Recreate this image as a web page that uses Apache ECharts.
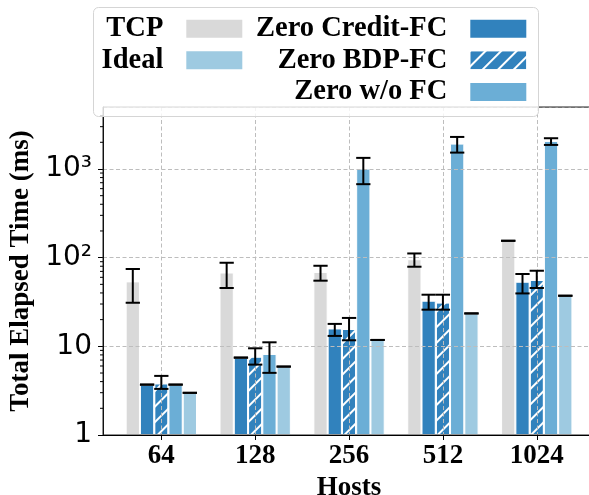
<!DOCTYPE html>
<html><head><meta charset="utf-8">
<script src="https://cdn.jsdelivr.net/npm/echarts@6/dist/echarts.min.js"></script>
<style>html,body{margin:0;padding:0;background:#fff}#c{width:589px;height:495px}</style>
</head><body><div id="c"></div>
<script>
// ---- data ----
const hosts = ['64', '128', '256', '512', '1024'];
const seriesNames = ['TCP', 'Zero Credit-FC', 'Zero BDP-FC', 'Zero w/o FC', 'Ideal'];
const tcp      = [54, 68, 69, 96, 155];
const tcpLow   = [31, 45.5, 55, 79, 155];
const tcpHigh  = [74.5, 87.6, 81, 111.5, 155];
const credit     = [3.70, 7.46, 15.9, 32.7, 53.5];
const creditLow  = [3.70, 7.46, 13.1, 25.9, 39.5];
const creditHigh = [3.70, 7.46, 17.9, 38.2, 65.4];
const bdp     = [3.83, 7.66, 15.7, 31.3, 56];
const bdpLow  = [3.31, 6.22, 11.7, 25.9, 45.5];
const bdpHigh = [4.64, 9.5, 20.9, 38.2, 71.2];
const noFc     = [3.70, 8.2, 1010, 1932, 2072];
const noFcLow  = [3.70, 5.02, 674, 1530, 1868];
const noFcHigh = [3.70, 11.1, 1334, 2298, 2222];
const ideal     = [2.99, 5.91, 11.8, 23.5, 37.2];
const idealLow  = [2.99, 5.91, 11.8, 23.5, 37.2];
const idealHigh = [2.99, 5.91, 11.8, 23.5, 37.2];
const yTickLabels = {1: '1', 10: '10', 100: '10²', 1000: '10³'};
const minorTickValues = [2,3,4,5,6,7,8,9,20,30,40,50,60,70,80,90,200,300,400,500,600,700,800,900,2000,3000,4000];
const yMin = 1, yMax = 5000;

// ---- styling ----
const colors = ['#d9d9d9', '#3182bd', '#3182bd', '#6baed6', '#9ecae1'];
const serif = 'Liberation Serif';
const catGap = 0.24;
const values = [tcp, credit, bdp, noFc, ideal];
const lows = [tcpLow, creditLow, bdpLow, noFcLow, idealLow];
const highs = [tcpHigh, creditHigh, bdpHigh, noFcHigh, idealHigh];

const errData = [];
for (let s = 0; s < 5; s++) for (let i = 0; i < hosts.length; i++) errData.push([i, s, lows[s][i], highs[s][i]]);

const gridLine = {show: true, lineStyle: {type: [4, 2.5], color: '#bdbdbd', width: 1}};

const barSeries = values.map((arr, k) => {
  const st = {color: colors[k], borderColor: '#ffffff', borderWidth: 1};
  if (k === 2) st.decal = {symbol: 'rect', symbolSize: 1, color: '#ffffff', dashArrayX: [1, 0], dashArrayY: [1.3, 9], rotation: -Math.PI / 4};
  return {type: 'bar', name: seriesNames[k], xAxisIndex: 1, yAxisIndex: 1, data: arr,
    barGap: '0%', barCategoryGap: (catGap * 100) + '%', itemStyle: st, z: 2, silent: true};
});

const legendPos = [
  {right: 344.7, top: 13.7}, {right: 344.7, top: 45.3},
  {right: 60.7, top: 13.7}, {right: 60.7, top: 45.3}, {right: 60.7, top: 77}
];
const legendOrder = ['TCP', 'Ideal', 'Zero Credit-FC', 'Zero BDP-FC', 'Zero w/o FC'];
const legends = legendOrder.map((n, i) => ({
  data: [n], right: legendPos[i].right, top: legendPos[i].top, orient: 'horizontal', align: 'right',
  icon: 'rect', itemWidth: 58, itemHeight: 20, padding: 0, selectedMode: false, z: 6,
  textStyle: {fontFamily: serif, fontWeight: 'bold', fontSize: 28.5, color: '#000', lineHeight: 30, padding: [0, 17, 0, 0]}
}));

const chart = echarts.init(document.getElementById('c'), null, {renderer: 'canvas'});
chart.setOption({
  animation: false,
  backgroundColor: '#fff',
  grid: [
    {left: 103, right: -6, top: 107, bottom: 60, containLabel: false, outerBoundsMode: 'none', show: true, borderColor: '#222', borderWidth: 1, backgroundColor: 'transparent', z: 4},
    {left: 114.4, right: 5.3, top: 107, bottom: 60, containLabel: false, outerBoundsMode: 'none'}
  ],
  xAxis: [
    {gridIndex: 0, type: 'value', min: 0, max: 1, z: 4,
      axisLine: {show: true, lineStyle: {color: '#000', width: 1}},
      axisTick: {show: false}, axisLabel: {show: false}, splitLine: {show: false}},
    {gridIndex: 1, type: 'category', data: hosts, z: 3,
      axisLine: {show: false},
      axisTick: {show: true, alignWithLabel: true, length: 5, lineStyle: {color: '#000'}},
      axisLabel: {fontFamily: serif, fontWeight: 'bold', fontSize: 27, color: '#000', margin: 8},
      splitLine: Object.assign({alignWithLabel: true}, gridLine),
      name: 'Hosts', nameLocation: 'middle', nameGap: 33,
      nameTextStyle: {fontFamily: serif, fontWeight: 'bold', fontSize: 27, color: '#000'}}
  ],
  yAxis: [
    {gridIndex: 0, type: 'log', logBase: 10, min: yMin, max: yMax, z: 3,
      axisLine: {show: true, lineStyle: {color: '#000'}},
      axisTick: {show: true, length: 5, lineStyle: {color: '#000'}},
      axisLabel: {fontFamily: 'DejaVu Sans', fontSize: 28, color: '#000', margin: 11, showMaxLabel: false,
        formatter: v => { const e = Math.log10(v), r = Math.round(e); if (Math.abs(e - r) > 1e-6) return ''; return yTickLabels[Math.pow(10, r)] || ''; }},
      splitLine: gridLine,
      name: 'Total Elapsed Time (ms)', nameLocation: 'middle', nameGap: 64,
      nameTextStyle: {fontFamily: serif, fontWeight: 'bold', fontSize: 27, color: '#000'}},
    {gridIndex: 1, type: 'log', logBase: 10, min: yMin, max: yMax, show: false}
  ],
  legend: legends,
  graphic: [{type: 'rect', left: 93, top: 7, z: 5, silent: true,
    shape: {width: 445, height: 109, r: 5},
    style: {fill: 'rgba(255,255,255,0.82)', stroke: '#d5d5d5', lineWidth: 1}}],
  series: barSeries.concat([
    {type: 'custom', name: 'err', xAxisIndex: 1, yAxisIndex: 1, data: errData, encode: {x: 0, y: [2, 3]}, z: 4, silent: true,
      renderItem: (params, api) => {
        const ci = api.value(0), s = api.value(1);
        const band = api.size([1, 0])[0];
        const bw = band * (1 - catGap) / 5;
        const cx = api.coord([ci, 1])[0] + (s - 2) * bw;
        const yl = api.coord([ci, api.value(2)])[1];
        const yh = api.coord([ci, api.value(3)])[1];
        const h = bw / 2;
        const ls = {stroke: '#000', lineWidth: 2};
        return {type: 'group', children: [
          {type: 'line', shape: {x1: cx, y1: yl, x2: cx, y2: yh}, style: ls},
          {type: 'line', shape: {x1: cx - h, y1: yl, x2: cx + h, y2: yl}, style: ls},
          {type: 'line', shape: {x1: cx - h, y1: yh, x2: cx + h, y2: yh}, style: ls}
        ]};
      }},
    {type: 'custom', name: 'minor', xAxisIndex: 0, yAxisIndex: 0, data: minorTickValues.map(v => [0, v]), encode: {x: 0, y: 1}, z: 4, silent: true,
      renderItem: (params, api) => {
        const p = api.coord([0, api.value(1)]);
        return {type: 'line', shape: {x1: p[0] - 3, y1: p[1], x2: p[0], y2: p[1]}, style: {stroke: '#000', lineWidth: 1}};
      }}
  ])
});
</script></body></html>
